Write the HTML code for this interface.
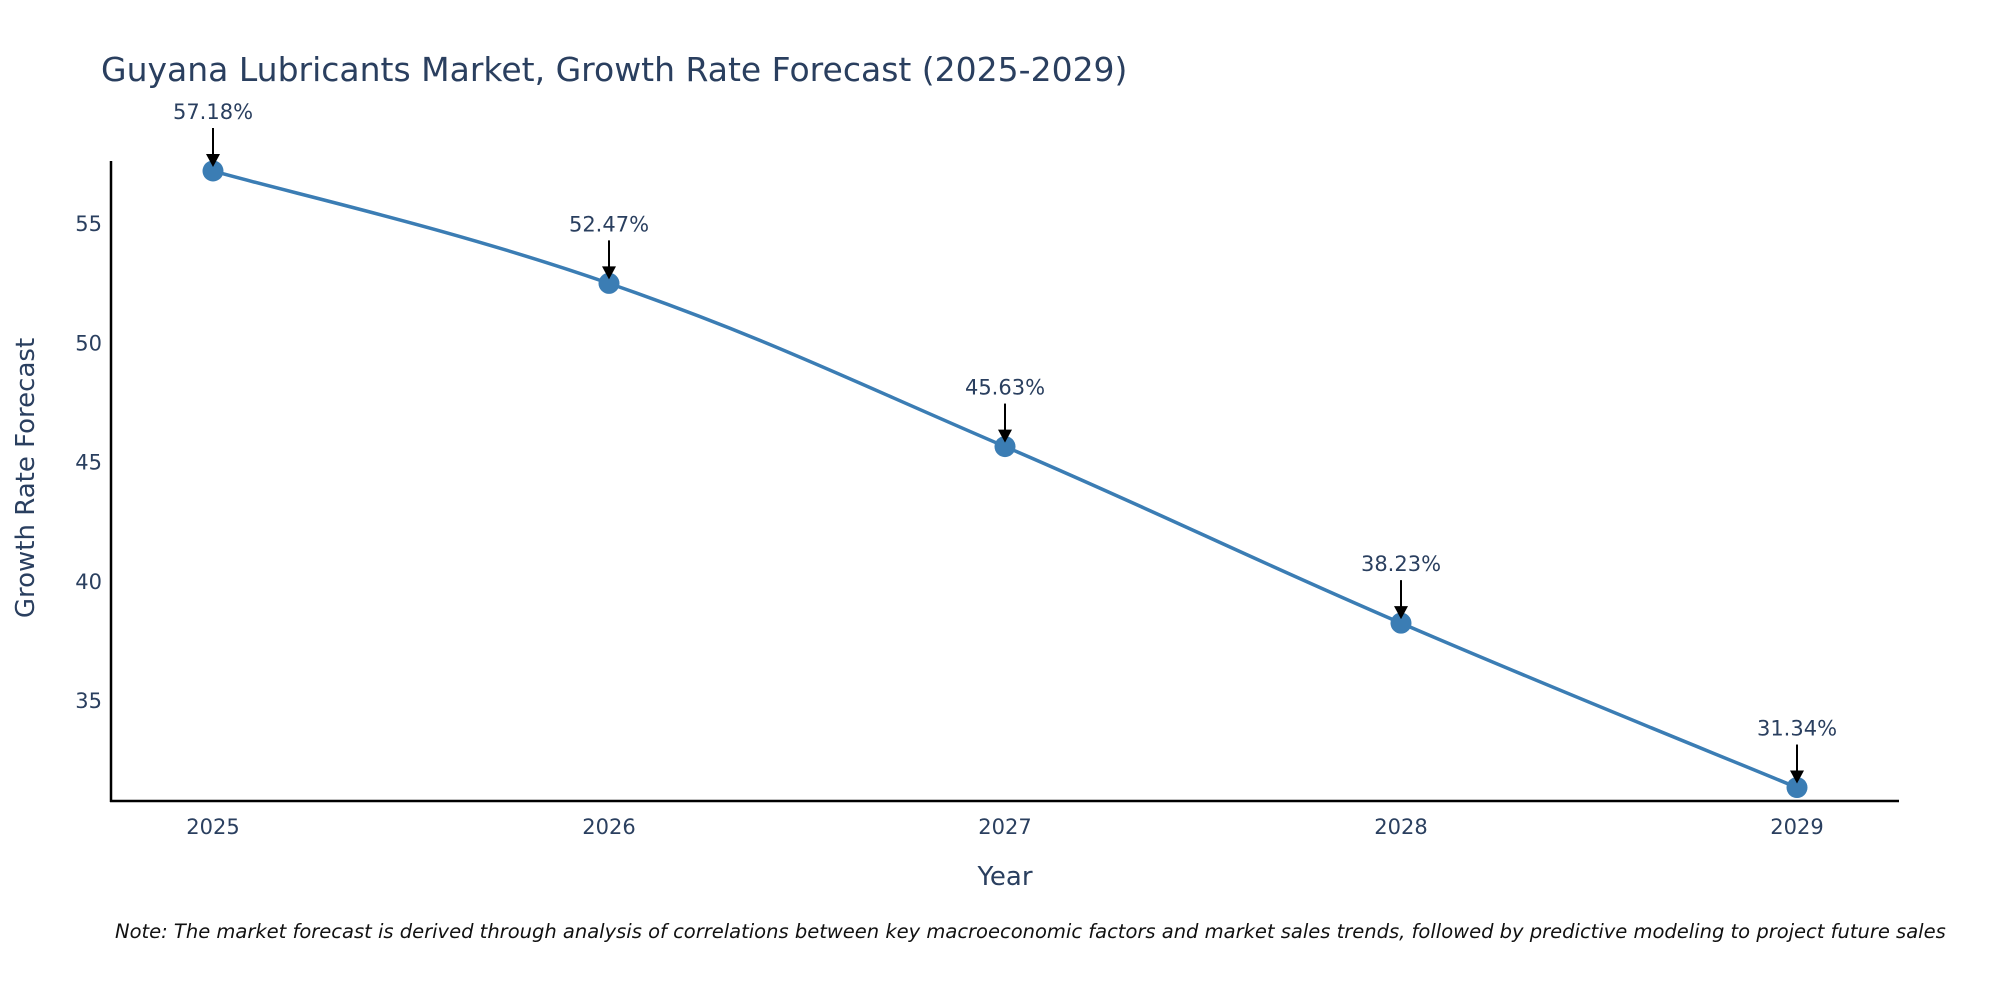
<!DOCTYPE html>
<html><head><meta charset="utf-8"><style>
html,body{margin:0;padding:0;background:#fff;}
svg{display:block;font-family:"DejaVu Sans","Liberation Sans",sans-serif;}
</style></head><body>
<svg id="chart" width="2000" height="1000" viewBox="0 0 2000 1000">
<text x="101" y="81" font-size="33" fill="#2a3f5f">Guyana Lubricants Market, Growth Rate Forecast (2025-2029)</text>
<g id="axes"></g>
<path id="line" fill="none" stroke="#3b7db4" stroke-width="3.5"></path>
<g id="marks"></g>
<text x="1005" y="885" font-size="26" fill="#2a3f5f" text-anchor="middle">Year</text>
<text x="0" y="0" font-size="26" fill="#2a3f5f" text-anchor="middle" transform="translate(34,478) rotate(-90)">Growth Rate Forecast</text>
<text x="115" y="938" font-size="19.5" font-style="italic" fill="#111">Note: The market forecast is derived through analysis of correlations between key macroeconomic factors and market sales trends, followed by predictive modeling to project future sales</text>
</svg>
<script>
const years = ["2025","2026","2027","2028","2029"];
const values = [57.18, 52.47, 45.63, 38.23, 31.34];
const labels = ["57.18%","52.47%","45.63%","38.23%","31.34%"];
const yTicks = [35, 40, 45, 50, 55];

const NS = "http://www.w3.org/2000/svg";
function xPos(i){ return 213 + i * 396; }
function yPos(v){ return 223 + (55 - v) * 23.86; }
function mk(tag, attrs, parent){
  const e = document.createElementNS(NS, tag);
  for (const k in attrs) e.setAttribute(k, attrs[k]);
  parent.appendChild(e); return e;
}
const axes = document.getElementById('axes');
const marks = document.getElementById('marks');
const yl = mk('line', {x1:111, y1:161, x2:111, y2:802, stroke:'#000', 'stroke-width':2.5}, axes);


const xl = mk('line', {x1:110, y1:801, x2:1899, y2:801, stroke:'#000', 'stroke-width':2.5}, axes);


yTicks.forEach(t => {
  const e = mk('text', {x:102, y:yPos(t)+8, 'font-size':21, fill:'#2a3f5f', 'text-anchor':'end'}, axes);
  e.textContent = t;
  
  
});
years.forEach((y, i) => {
  const e = mk('text', {x:xPos(i), y:834, 'font-size':21, fill:'#2a3f5f', 'text-anchor':'middle'}, axes);
  e.textContent = y;
  
  
});
const pts = values.map((v, i) => [xPos(i), yPos(v)]);
let d = `M${pts[0][0]},${pts[0][1]}`;
for (let i = 0; i < pts.length - 1; i++) {
  const p0 = pts[Math.max(i-1,0)], p1 = pts[i], p2 = pts[i+1], p3 = pts[Math.min(i+2, pts.length-1)];
  const s = 0.6/3;
  d += ` C${p1[0]+(p2[0]-p0[0])*s},${p1[1]+(p2[1]-p0[1])*s} ${p2[0]-(p3[0]-p1[0])*s},${p2[1]-(p3[1]-p1[1])*s} ${p2[0]},${p2[1]}`;
}
document.getElementById('line').setAttribute('d', d);
pts.forEach((p, i) => {
  const c = mk('circle', {cx:p[0], cy:p[1], r:10.5, fill:'#3b7db4'}, marks);
  
  
  const a = mk('line', {x1:p[0], y1:p[1]-43, x2:p[0], y2:p[1]-15, stroke:'#000', 'stroke-width':2}, marks);
  
  
  const h = mk('polygon', {points:`${p[0]-7},${p[1]-17} ${p[0]+7},${p[1]-17} ${p[0]},${p[1]-4}`, fill:'#000'}, marks);
  
  
  const t = mk('text', {x:p[0], y:p[1]-52, 'font-size':21, fill:'#2a3f5f', 'text-anchor':'middle'}, marks);
  t.textContent = labels[i];
  
  
});
</script>
</body></html>
